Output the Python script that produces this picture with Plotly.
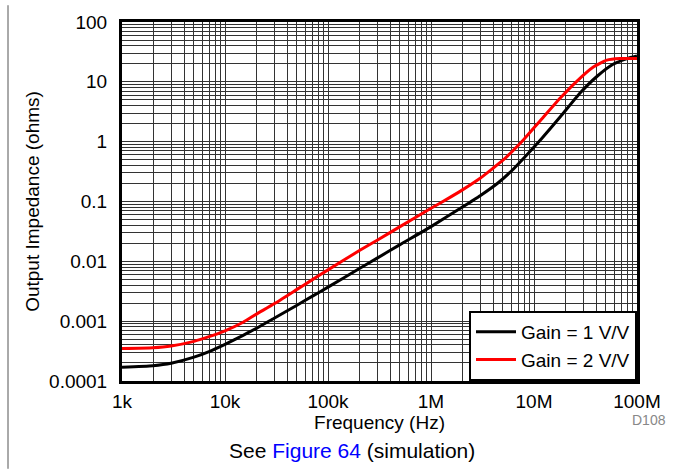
import plotly.graph_objects as go

# ---- data ----
freq_g1 = [1e3, 2e3, 3e3, 5e3, 7e3, 1e4, 1.5e4, 2e4, 3e4, 5e4, 7e4, 1e5, 2e5, 3e5, 5e5,
           1e6, 2e6, 3e6, 4.4e6, 6e6, 8.5e6, 1.2e7, 1.8e7, 2.8e7, 4.1e7, 5.8e7, 8e7, 1e8]
zout_g1 = [1.70e-4, 1.80e-4, 1.98e-4, 2.5e-4, 3.1e-4, 4.1e-4, 5.8e-4, 7.5e-4, 1.12e-3, 1.85e-3,
           2.6e-3, 3.7e-3, 7.5e-3, 1.13e-2, 1.9e-2, 3.8e-2, 8.0e-2, 0.125, 0.2, 0.32, 0.6,
           1.15, 2.6, 6.5, 12.4, 19.5, 24.5, 27.0]

freq_g2 = [1e3, 2e3, 3e3, 5e3, 7e3, 1e4, 1.5e4, 2e4, 3e4, 5e4, 7e4, 1e5, 2e5, 3e5, 5e5,
           1e6, 1.5e6, 2e6, 3e6, 4e6, 5e6, 6e6, 8e6, 1.14e7, 1.79e7, 2.6e7, 3.74e7, 5.1e7, 6.8e7, 1e8]
zout_g2 = [3.5e-4, 3.6e-4, 3.85e-4, 4.6e-4, 5.5e-4, 6.9e-4, 9.6e-4, 1.3e-3, 1.95e-3, 3.4e-3,
           4.9e-3, 7.2e-3, 1.5e-2, 2.25e-2, 3.8e-2, 7.7e-2, 0.115, 0.155, 0.245, 0.36, 0.49,
           0.66, 1.1, 2.2, 5.3, 10.2, 17.5, 23.0, 24.5, 24.5]

series_names = ["Gain = 1 V/V", "Gain = 2 V/V"]
series_colors = ["#000000", "#ff0000"]

x_decades = [1e3, 1e4, 1e5, 1e6, 1e7, 1e8]
x_labels = ["1k", "10k", "100k", "1M", "10M", "100M"]
y_decades = [1e-4, 1e-3, 1e-2, 1e-1, 1, 10, 100]
y_labels = ["0.0001", "0.001", "0.01", "0.1", "1", "10", "100"]
minor_mult = [1, 2, 3, 4, 5, 6, 7, 8, 9]


def grid_ticks(decades, labels):
    vals, texts = [], []
    for i, d in enumerate(decades):
        for m in minor_mult:
            if i == len(decades) - 1 and m > 1:
                break
            vals.append(d * m)
            texts.append(labels[i] if m == 1 else "")
    return vals, texts


xv, xt = grid_ticks(x_decades, x_labels)
yv, yt = grid_ticks(y_decades, y_labels)

FONT = "Liberation Sans, Arial, Helvetica, sans-serif"
FS = 19

fig = go.Figure()
for f, z, name, col in [(freq_g1, zout_g1, series_names[0], series_colors[0]),
                        (freq_g2, zout_g2, series_names[1], series_colors[1])]:
    fig.add_trace(go.Scatter(x=f, y=z, mode="lines", name=name,
                             line=dict(color=col, width=3, shape="spline", smoothing=0.5)))

fig.update_layout(
    width=673, height=470,
    margin=dict(l=122, r=36, t=17, b=89),
    paper_bgcolor="white", plot_bgcolor="white",
    font=dict(family=FONT, size=FS, color="black"),
    showlegend=True,
    legend=dict(x=1, y=0, xanchor="right", yanchor="bottom",
                bgcolor="white", bordercolor="black", borderwidth=2,
                font=dict(family=FONT, size=FS, color="black"),
                tracegroupgap=0, itemwidth=40),
    xaxis=dict(type="log", range=[3, 8], tickvals=xv, ticktext=xt,
               showgrid=True, gridcolor="#333333", gridwidth=1,
               showline=True, linecolor="black", linewidth=3, mirror=True,
               ticks="", ticklabelstandoff=1, zeroline=False,
               title=dict(text="Frequency (Hz)", standoff=3, font=dict(size=FS))),
    yaxis=dict(type="log", range=[-4, 2], tickvals=yv, ticktext=yt,
               showgrid=True, gridcolor="#333333", gridwidth=1,
               showline=True, linecolor="black", linewidth=3, mirror=True,
               ticks="", ticklabelstandoff=8, zeroline=False,
               title=dict(text="Output Impedance (ohms)", standoff=5, font=dict(size=FS))),
)

# figure frame line on the left edge
fig.add_shape(type="line", xref="paper", yref="paper",
              x0=(8 - 122) / 515, x1=(8 - 122) / 515, y0=-89 / 364, y1=1 + 17 / 364,
              line=dict(color="#555555", width=1))

fig.add_annotation(xref="paper", yref="paper", x=1 + 31 / 515, y=-40 / 364,
                   xanchor="right", yanchor="middle", showarrow=False,
                   text="D108", font=dict(family=FONT, size=14, color="#888888"))
fig.add_annotation(xref="paper", yref="paper", x=(352 - 122) / 515, y=-70 / 364,
                   xanchor="center", yanchor="middle", showarrow=False,
                   text="See <span style='color:#0000ff'>Figure 64</span> (simulation)",
                   font=dict(family=FONT, size=21, color="black"))

fig.write_html("out.html", config={"displayModeBar": False},
               post_script="document.body.style.margin='0px';document.body.style.overflow='hidden';")
